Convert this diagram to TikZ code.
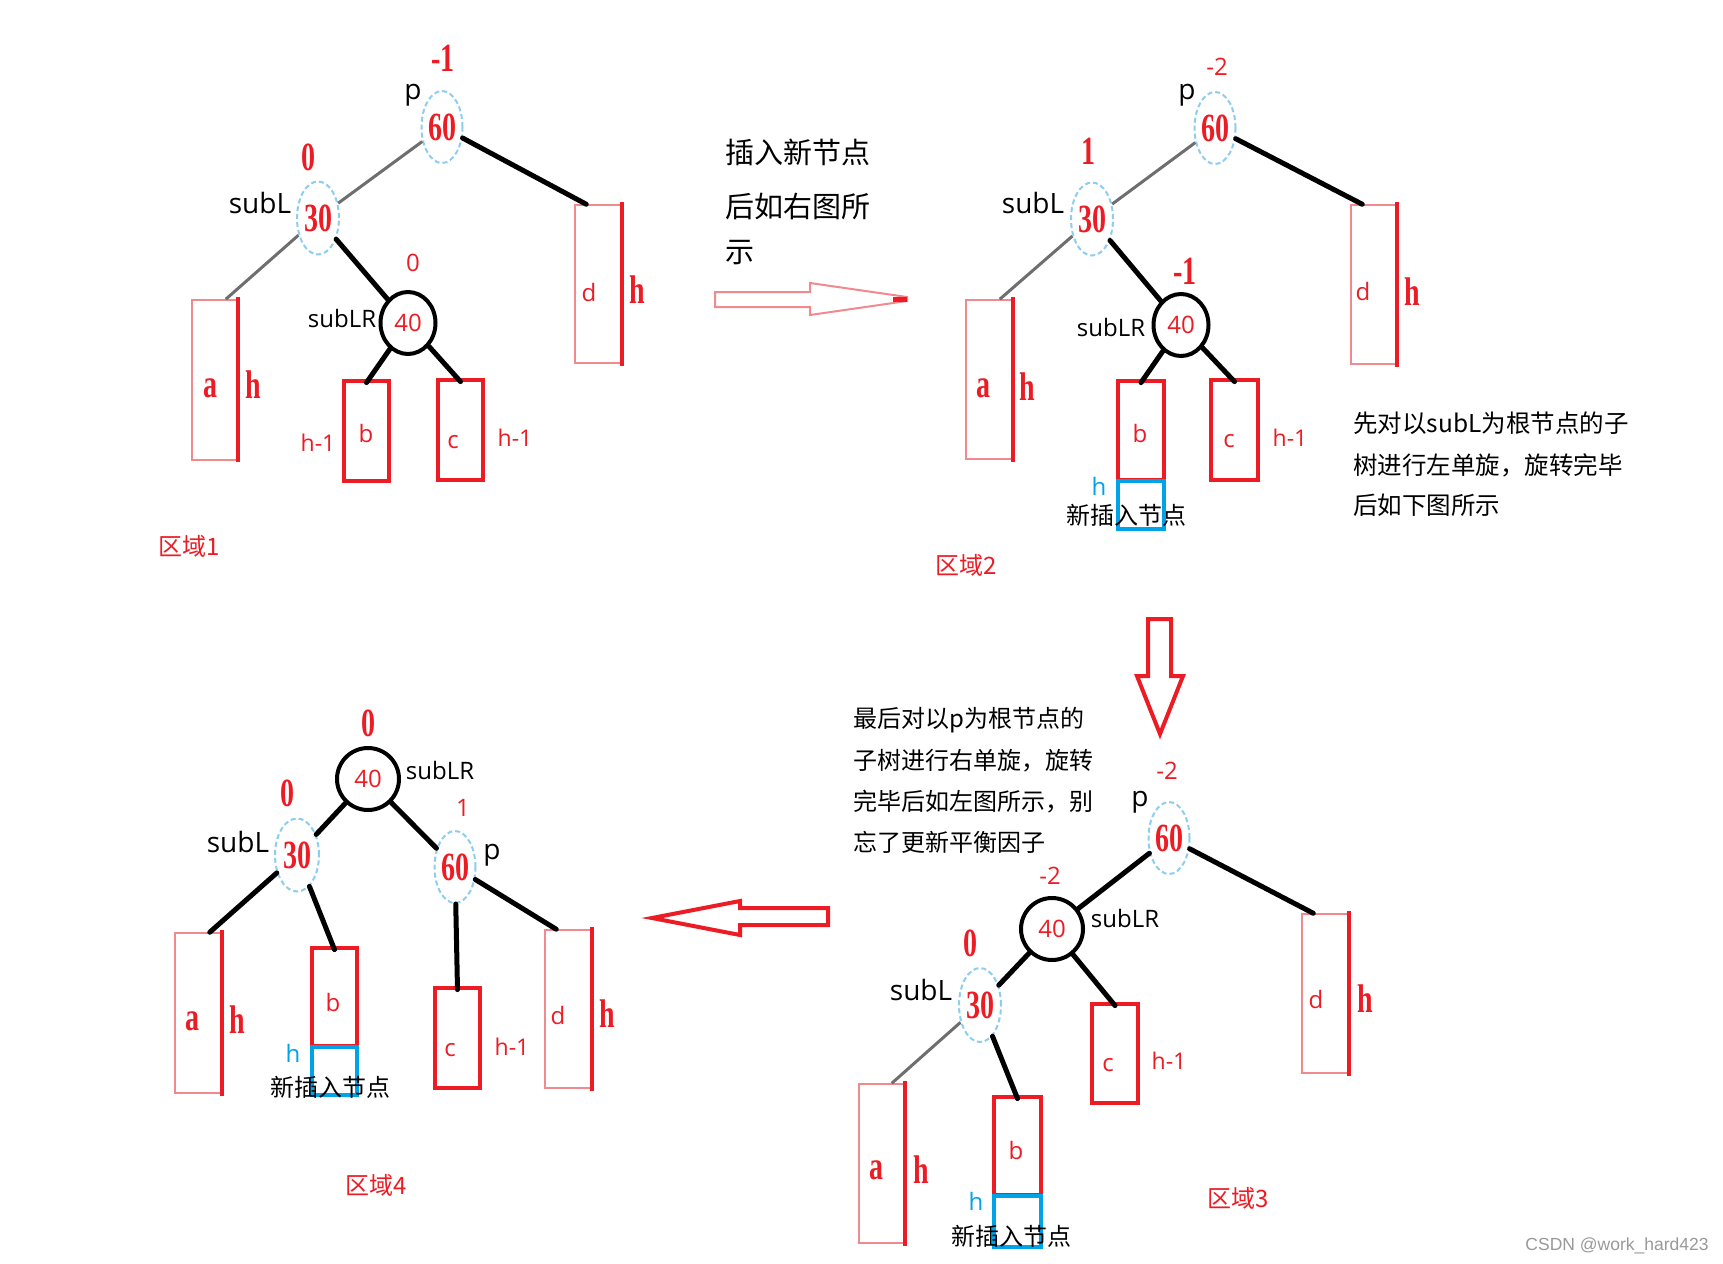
\documentclass[tikz,border=0pt]{standalone}
\usepackage{fontspec}
\setmainfont{Open Sans}
\newfontfamily\cjk{Noto Sans CJK SC}
\newfontfamily\bsf{Liberation Serif}
\newfontfamily\wmf{Liberation Sans}
\usetikzlibrary{shapes.geometric}
\definecolor{pred}{HTML}{ED1C24}
\definecolor{lred}{HTML}{F08A8E}
\definecolor{pblue}{HTML}{00A2E8}
\definecolor{dblue}{HTML}{8CCDF0}
\definecolor{egray}{HTML}{6E6E6E}
\newcommand\pxs[1]{\fontsize{#1}{#1}\selectfont}
\newcommand\bsn[1]{\scalebox{0.7}[1]{#1}}
\begin{document}
\begin{tikzpicture}[x=1pt,y=-1pt,
 ell/.style={ellipse, draw=dblue, dash pattern=on 5pt off 3pt, line width=2pt, inner sep=0pt, minimum width=41pt, minimum height=72pt, text=pred, font=\bsf\bfseries\pxs{40}},
 circ/.style={ellipse, draw=black, line width=4pt, inner sep=0pt, minimum width=55pt, minimum height=62pt, text=pred, font=\pxs{24}},
 thinbox/.style={rectangle, draw=lred, line width=1.5pt, inner sep=0pt},
 thickbox/.style={rectangle, draw=pred, line width=4.8pt, inner sep=0pt},
 bluebox/.style={rectangle, draw=pblue, line width=4.5pt, inner sep=0pt},
 redge/.style={draw=pred, line width=4.5pt},
 bedge/.style={draw=black, line width=5pt, line cap=round},
 gedge/.style={draw=egray, line width=3pt},
 blk/.style={inner sep=0pt, text=black, font=\pxs{28}},
 blkr/.style={inner sep=0pt, text=black, font=\pxs{24}},
 rsn/.style={inner sep=0pt, text=pred, font=\pxs{24}},
 rhm/.style={inner sep=0pt, text=pred, font=\pxs{23}},
 rbs/.style={inner sep=0pt, text=pred, font=\bsf\bfseries\pxs{40}},
 bh/.style={inner sep=0pt, text=pblue, font=\pxs{24}},
 cj/.style={inner sep=0pt, text=black, font=\cjk\pxs{#1}, anchor=west},
 cjc/.style={inner sep=0pt, text=black, font=\cjk\pxs{24}},
 reg/.style={inner sep=0pt, text=pred, font=\cjk\pxs{24}}
]
\useasboundingbox[fill=white] (0,0) rectangle (1723,1263);

% ================= Region 1 =================
\node[rbs] (r1bf60) at (443,58) {\bsn{-1}};
\node[blk] (r1p) at (413,95) {p};
\node[ell] (r1n60) at (442,127) {\bsn{60}};
\node[rbs] (r1bf30) at (308,157) {\bsn{0}};
\node[blk] (r1sl) at (260,203) {subL};
\node[ell, minimum width=42pt, minimum height=73pt] (r1n30) at (318,218) {\bsn{30}};
\node[rsn] (r1bf40) at (413,263) {0};
\node[circ] (r1n40) at (408,323) {40};
\node[blkr] (r1slr) at (342,318) {subLR};
\node[thinbox, minimum width=45pt, minimum height=160pt] (r1a) at (214.5,380) {};
\draw[redge] ([yshift=2pt]r1a.north east) -- ([yshift=-1pt]r1a.south east);
\node[rbs] (r1at) at (210,388) {\bsn{a}};
\node[rbs] (r1ah) at (253,385) {\bsn{h}};
\node[thickbox, minimum width=45pt, minimum height=100pt] (r1b) at (366.5,431) {};
\node[rsn] (r1bt) at (366,433) {b};
\node[rhm] (r1bh) at (318,443) {h-1};
\node[thickbox, minimum width=45pt, minimum height=100pt] (r1c) at (460.5,430) {};
\node[rsn] (r1ct) at (453,442) {c};
\node[rhm] (r1ch) at (515,438) {h-1};
\node[thinbox, minimum width=46pt, minimum height=158pt] (r1d) at (598,284) {};
\draw[redge] ([yshift=2pt]r1d.north east) -- ([yshift=-2pt]r1d.south east);
\node[rsn] (r1dt) at (589,292) {d};
\node[rbs] (r1dh) at (637,290) {\bsn{h}};
\node[reg] (r1reg) at (189,546) {区域1};
\draw[gedge] (r1n60) -- (r1n30);
\draw[bedge] (r1n60) -- ([xshift=12pt]r1d.north west);
\draw[bedge] (r1n30) -- (r1n40);
\draw[gedge] (r1n30) -- ([xshift=-12pt]r1a.north east);
\draw[bedge] (r1n40) -- ([yshift=-4pt]r1b.north);
\draw[bedge] (r1n40) -- ([yshift=-4pt]r1c.north);

% ================= Middle top text and arrow =================
\node[cj=29] (t1) at (725,152) {插入新节点};
\node[cj=29] (t2) at (725,207) {后如右图所};
\node[cj=29] (t3) at (725,253) {示};
\draw[draw=lred, line width=2pt] (715,292) -- (810,292) -- (810,283) -- (907,297) -- (907,301) -- (810,315) -- (810,307) -- (715,307) -- cycle;
\fill[pred] (893,296.5) rectangle (907,301.5);

% ================= Region 2 =================
\node[rsn] (r2bf60) at (1217,67) {-2};
\node[blk] (r2p) at (1187,95) {p};
\node[ell] (r2n60) at (1215,128) {\bsn{60}};
\node[rbs] (r2bf30) at (1088,151) {\bsn{1}};
\node[blk] (r2sl) at (1033,203) {subL};
\node[ell, minimum width=42pt, minimum height=73pt] (r2n30) at (1092,219) {\bsn{30}};
\node[rbs] (r2bf40) at (1185,271) {\bsn{-1}};
\node[circ] (r2n40) at (1181,325) {40};
\node[blkr] (r2slr) at (1111,327) {subLR};
\node[thinbox, minimum width=46pt, minimum height=159pt] (r2a) at (989,379.5) {};
\draw[redge] ([yshift=2pt]r2a.north east) -- ([yshift=-2pt]r2a.south east);
\node[rbs] (r2at) at (983,388) {\bsn{a}};
\node[rbs] (r2ah) at (1027,387) {\bsn{h}};
\node[thickbox, minimum width=46pt, minimum height=99pt] (r2b) at (1141,430.5) {};
\node[rsn] (r2bt) at (1140,433) {b};
\node[bluebox, minimum width=46pt, minimum height=48pt] (r2n) at (1141,505) {};
\node[bh] (r2nh) at (1099,486) {h};
\node[cjc] (r2nt) at (1126,515) {新插入节点};
\node[thickbox, minimum width=47pt, minimum height=100pt] (r2c) at (1234.5,430) {};
\node[rsn] (r2ct) at (1229,441) {c};
\node[rhm] (r2ch) at (1290,438) {h-1};
\node[thinbox, minimum width=45pt, minimum height=159pt] (r2d) at (1373.5,284.5) {};
\draw[redge] ([yshift=2pt]r2d.north east) -- ([yshift=-2pt]r2d.south east);
\node[rsn] (r2dt) at (1363,291) {d};
\node[rbs] (r2dh) at (1412,292) {\bsn{h}};
\node[reg] (r2reg) at (966,565) {区域2};
\draw[gedge] (r2n60) -- (r2n30);
\draw[bedge] (r2n60) -- ([xshift=12pt]r2d.north west);
\draw[bedge] (r2n30) -- (r2n40);
\draw[gedge] (r2n30) -- ([xshift=-13pt]r2a.north east);
\draw[bedge] (r2n40) -- ([yshift=-4pt]r2b.north);
\draw[bedge] (r2n40) -- ([yshift=-4pt]r2c.north);
\node[cj=24.5] (t4) at (1353,423) {先对以subL为根节点的子};
\node[cj=24.5] (t5) at (1353,465) {树进行左单旋，旋转完毕};
\node[cj=24.5] (t6) at (1353,505) {后如下图所示};

% ================= Down arrow =================
\draw[draw=pred, line width=4pt, line join=miter] (1148,619) -- (1171,619) -- (1171,676) -- (1183,676) -- (1160,734) -- (1137,676) -- (1148,676) -- cycle;

% ================= Region 3 =================
\node[cj=24] (t7) at (853,720) {最后对以p为根节点的};
\node[cj=24] (t8) at (853,761) {子树进行右单旋，旋转};
\node[cj=24] (t9) at (853,802) {完毕后如左图所示，别};
\node[cj=24] (t10) at (853,842) {忘了更新平衡因子};
\node[rsn] (r3bf60) at (1167,771) {-2};
\node[blk] (r3p) at (1140,802) {p};
\node[ell] (r3n60) at (1169,838) {\bsn{60}};
\node[rsn] (r3bf40) at (1050,876) {-2};
\node[circ, minimum width=62pt, minimum height=62pt] (r3n40) at (1052,929) {40};
\node[blkr] (r3slr) at (1125,918) {subLR};
\node[rbs] (r3bf30) at (970,943) {\bsn{0}};
\node[blk] (r3sl) at (921,990) {subL};
\node[ell, minimum width=42pt, minimum height=74pt] (r3n30) at (980,1005) {\bsn{30}};
\node[thickbox, minimum width=46pt, minimum height=99pt] (r3c) at (1115,1053.5) {};
\node[rsn] (r3ct) at (1108,1065) {c};
\node[rhm] (r3ch) at (1169,1061) {h-1};
\node[thinbox, minimum width=46pt, minimum height=159pt] (r3d) at (1325,993.5) {};
\draw[redge] ([yshift=2pt]r3d.north east) -- ([yshift=-2pt]r3d.south east);
\node[rsn] (r3dt) at (1316,999) {d};
\node[rbs] (r3dh) at (1365,999) {\bsn{h}};
\node[thinbox, minimum width=45pt, minimum height=159pt] (r3a) at (881.5,1163.5) {};
\draw[redge] ([yshift=2pt]r3a.north east) -- ([yshift=-2pt]r3a.south east);
\node[rbs] (r3at) at (876,1170) {\bsn{a}};
\node[rbs] (r3ah) at (921,1170) {\bsn{h}};
\node[thickbox, minimum width=47pt, minimum height=98pt] (r3b) at (1017.5,1146) {};
\node[rsn] (r3bt) at (1016,1150) {b};
\node[bluebox, minimum width=47pt, minimum height=51pt] (r3n) at (1017.5,1221.5) {};
\node[bh] (r3nh) at (976,1201) {h};
\node[cjc] (r3nt) at (1011,1236) {新插入节点};
\node[reg] (r3reg) at (1238,1198) {区域3};
\draw[bedge] (r3n60) -- (r3n40);
\draw[bedge] (r3n60) -- ([xshift=12pt]r3d.north west);
\draw[bedge] (r3n40) -- (r3n30);
\draw[bedge] (r3n40) -- ([yshift=-4pt]r3c.north);
\draw[gedge] (r3n30) -- ([xshift=-13pt]r3a.north east);
\draw[bedge] (r3n30) -- ([yshift=-4pt]r3b.north);

% ================= Left arrow =================
\draw[draw=pred, line width=4pt, line join=miter] (828,908) -- (740,908) -- (740,901) -- (652,918) -- (740,935) -- (740,925) -- (828,925) -- cycle;

% ================= Region 4 =================
\node[rbs] (r4bf40) at (368,723) {\bsn{0}};
\node[circ, minimum width=62pt, minimum height=62pt] (r4n40) at (368,779) {40};
\node[blkr] (r4slr) at (440,770) {subLR};
\node[rbs] (r4bf30) at (287,793) {\bsn{0}};
\node[blk] (r4sl) at (238,842) {subL};
\node[ell, minimum width=44pt, minimum height=73pt] (r4n30) at (297,855) {\bsn{30}};
\node[rsn] (r4bf60) at (463,808) {1};
\node[ell] (r4n60) at (455,867) {\bsn{60}};
\node[blk] (r4p) at (492,855) {p};
\node[thinbox, minimum width=46pt, minimum height=160pt] (r4a) at (198,1013) {};
\draw[redge] ([yshift=2pt]r4a.north east) -- ([yshift=-2pt]r4a.south east);
\node[rbs] (r4at) at (192,1021) {\bsn{a}};
\node[rbs] (r4ah) at (237,1020) {\bsn{h}};
\node[thickbox, minimum width=45pt, minimum height=98pt] (r4b) at (334.5,997) {};
\node[rsn] (r4bt) at (333,1002) {b};
\node[bluebox, minimum width=45pt, minimum height=48pt] (r4n) at (334.5,1071) {};
\node[bh] (r4nh) at (293,1053) {h};
\node[cjc] (r4nt) at (330,1087) {新插入节点};
\node[thickbox, minimum width=45pt, minimum height=100pt] (r4c) at (457.5,1038) {};
\node[rsn] (r4ct) at (450,1050) {c};
\node[rhm] (r4ch) at (512,1047) {h-1};
\node[thinbox, minimum width=46pt, minimum height=158pt] (r4d) at (568,1009) {};
\draw[redge] ([yshift=2pt]r4d.north east) -- ([yshift=-2pt]r4d.south east);
\node[rsn] (r4dt) at (558,1015) {d};
\node[rbs] (r4dh) at (607,1014) {\bsn{h}};
\node[reg] (r4reg) at (376,1185) {区域4};
\draw[bedge] (r4n40) -- (r4n30);
\draw[bedge] (r4n40) -- (r4n60);
\draw[bedge] (r4n30) -- ([xshift=-12pt]r4a.north east);
\draw[bedge] (r4n30) -- ([yshift=-4pt]r4b.north);
\draw[bedge] (r4n60) -- ([yshift=-4pt]r4c.north);
\draw[bedge] (r4n60) -- ([xshift=12pt]r4d.north west);

% ================= Watermark =================
\node[inner sep=0pt, font=\wmf\pxs{17.5}, text=black!40] (wm) at (1617,1246) {CSDN @work\_hard423};
\end{tikzpicture}
\end{document}
